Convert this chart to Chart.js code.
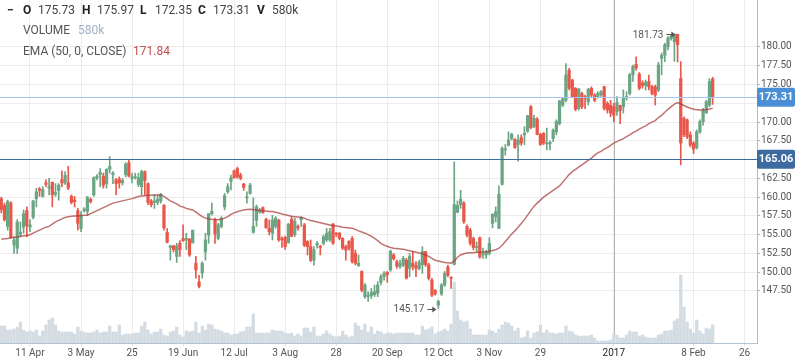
<!DOCTYPE html>
<html>
<head>
<meta charset="utf-8">
<script src="https://cdn.jsdelivr.net/npm/chart.js@4.4.0/dist/chart.umd.min.js"></script>
<style>
  html, body { margin: 0; padding: 0; background: #fff; }
  #wrap { position: relative; width: 798px; height: 363px; font-family: Roboto, sans-serif; }
  #wrap canvas { position: absolute; left: 0; top: 0; }
  .lg { position: absolute; font-size: 12px; line-height: 14px; color: #444; white-space: nowrap; }
  .b { font-weight: bold; color: #222; }
</style>
</head>
<body>
<div id="wrap">
  <canvas id="chart" width="798" height="363"></canvas>
  <span class="lg b" style="left:7px;top:3px">&minus;</span>
  <span class="lg b" style="left:23px;top:3px">O</span><span class="lg" style="left:38px;top:3px">175.73</span>
  <span class="lg b" style="left:82px;top:3px">H</span><span class="lg" style="left:97px;top:3px">175.97</span>
  <span class="lg b" style="left:140px;top:3px">L</span><span class="lg" style="left:155px;top:3px">172.35</span>
  <span class="lg b" style="left:198px;top:3px">C</span><span class="lg" style="left:213px;top:3px">173.31</span>
  <span class="lg b" style="left:257px;top:3px">V</span><span class="lg" style="left:272px;top:3px">580k</span>
  <span class="lg" style="left:23px;top:23px;color:#555">VOLUME</span><span class="lg" style="left:78px;top:23px;color:#9fb3c6">580k</span>
  <span class="lg" style="left:23px;top:44px;color:#555">EMA (50, 0, CLOSE)</span><span class="lg" style="left:133px;top:44px;color:#c0504d">171.84</span>
</div>
<script>
// trading-day index of the first candle (0 = 11 Apr)
const firstIdx = -9;

const open = [
  159.8, 158.9, 156.1, 159.2, 153.6, 153.2, 155.1, 156.0, 158.2, 156.0,
  157.3, 159.8, 161.1, 160.1, 161.9, 161.2, 162.0, 160.4, 160.9, 162.3,
  161.9, 161.9, 160.1, 159.6, 158.2, 155.8, 158.2, 158.1, 159.7, 160.3,
  162.6, 163.0, 162.8, 161.8, 163.7, 163.0, 162.3, 162.4, 161.9, 163.0,
  164.6, 162.5, 162.6, 161.7, 161.4, 163.4, 161.8, 159.5, 159.3, 159.3,
  159.5, 158.9, 155.3, 153.3, 153.5, 152.1, 153.85, 154.5, 154.3, 154.4,
  153.9, 151.2, 148.7, 149.9, 152.7, 154.95, 157.8, 156.95, 154.5, 156.1,
  158.7, 160.7, 162.1, 163.5, 163.8, 162.95, 161.75, 159.9, 160.5, 155.3,
  156.9, 158.0, 158.6, 157.05, 155.85, 155.2, 156.1, 156.95, 154.5, 154.65,
  153.95, 157.05, 155.0, 156.1, 157.0, 156.3, 154.1, 153.4, 151.6, 153.6,
  153.4, 153.85, 154.3, 154.3, 156.4, 155.2, 155.2, 154.5, 153.4, 154.1,
  154.5, 152.5, 150.9, 150.1, 146.75, 146.75, 146.9, 147.0, 147.2, 148.65,
  149.4, 150.0, 150.3, 152.3, 151.4, 150.75, 150.95, 151.6, 150.5, 151.2,
  150.9, 150.5, 151.0, 152.75, 151.0, 148.95, 147.6, 145.6, 147.1, 148.3,
  150.7, 149.3, 151.05, 158.0, 159.0, 159.2, 156.1, 155.6, 154.5, 153.3,
  154.6, 152.3, 152.3, 152.5, 156.5, 157.4, 155.85, 161.7, 166.3, 166.9,
  167.8, 167.7, 167.0, 167.9, 168.3, 168.8, 172.05, 169.4, 170.4, 168.35,
  168.5, 167.1, 167.1, 167.8, 168.7, 169.8, 172.27, 172.9, 176.9, 175.6,
  174.5, 171.8, 173.8, 173.4, 172.7, 174.5, 173.6, 173.4, 173.6, 174.7,
  172.5, 172.27, 172.05, 171.4, 172.2, 172.05, 173.2, 173.8, 176.3, 177.7,
  176.4, 175.2, 174.85, 175.4, 174.7, 174.7, 174.27, 178.5, 178.9, 180.05,
  181.15, 180.7, 181.7, 175.8, 170.5, 170.3, 168.3, 167.2, 166.6, 168.7,
  170.05, 171.2, 172.27, 175.73
];
const high = [
  160.0, 159.2, 159.6, 159.4, 154.7, 157.0, 156.7, 158.3, 158.7, 157.0,
  159.6, 161.2, 161.3, 161.4, 162.3, 162.5, 162.0, 161.8, 161.8, 163.5,
  163.4, 164.1, 160.3, 160.1, 158.5, 158.1, 158.6, 160.1, 159.9, 162.7,
  163.0, 163.8, 163.2, 163.8, 165.4, 163.4, 162.5, 162.7, 162.5, 164.6,
  165.0, 163.2, 163.2, 163.2, 163.6, 163.5, 161.9, 159.7, 160.3, 160.3,
  160.5, 159.0, 155.8, 153.6, 153.6, 153.85, 154.2, 156.3, 155.2, 154.5,
  155.6, 152.1, 149.6, 151.4, 155.2, 157.8, 159.2, 157.2, 156.5, 157.4,
  160.5, 161.8, 162.95, 163.6, 164.0, 163.2, 161.85, 160.7, 161.85, 159.9,
  158.95, 158.5, 158.7, 157.2, 156.95, 157.6, 157.4, 157.05, 154.7, 154.8,
  156.5, 157.4, 157.2, 156.3, 157.4, 156.5, 154.2, 154.3, 153.4, 154.1,
  153.6, 154.95, 155.85, 155.85, 156.5, 155.3, 155.3, 154.6, 153.6, 154.2,
  154.75, 152.95, 152.3, 150.2, 148.5, 147.4, 147.85, 148.3, 148.75, 149.7,
  150.1, 150.1, 152.95, 152.5, 151.6, 151.6, 152.1, 151.85, 152.5, 152.75,
  151.4, 151.6, 153.4, 152.8, 151.2, 149.2, 147.7, 146.3, 148.5, 150.1,
  150.95, 149.4, 164.7, 159.5, 160.9, 159.4, 156.3, 155.85, 154.7, 154.05,
  154.7, 153.2, 152.95, 154.6, 157.8, 158.7, 161.5, 166.7, 167.0, 168.7,
  168.5, 167.8, 168.3, 168.3, 169.4, 170.9, 172.2, 170.9, 170.6, 168.5,
  168.6, 169.2, 167.5, 169.1, 170.3, 172.9, 173.25, 177.8, 177.15, 175.7,
  174.6, 174.5, 174.0, 173.6, 174.5, 174.7, 173.8, 174.05, 174.2, 174.8,
  172.7, 172.9, 172.5, 173.4, 172.27, 174.3, 174.05, 176.5, 177.6, 178.7,
  176.6, 175.5, 175.6, 176.27, 174.9, 174.9, 177.95, 179.2, 180.5, 181.4,
  181.6, 181.73, 181.7, 178.05, 170.7, 170.4, 168.7, 167.4, 168.95, 170.3,
  171.83, 172.9, 175.8, 175.97
];
const low = [
  157.9, 156.8, 155.6, 154.5, 152.5, 152.5, 154.7, 155.2, 154.7, 155.4,
  157.1, 158.7, 160.1, 160.0, 161.4, 160.3, 158.7, 160.1, 159.6, 161.4,
  161.7, 161.0, 159.1, 158.7, 155.6, 155.4, 158.0, 157.6, 159.2, 160.1,
  162.3, 161.4, 161.2, 161.2, 163.2, 161.8, 160.3, 161.2, 161.6, 162.7,
  162.7, 161.9, 162.4, 161.4, 160.3, 160.3, 159.0, 158.7, 158.5, 159.0,
  159.2, 155.6, 153.9, 151.6, 152.7, 151.3, 152.1, 154.1, 153.0, 152.1,
  153.9, 149.2, 147.9, 149.2, 151.6, 153.85, 157.6, 153.85, 154.3, 155.9,
  158.3, 160.5, 160.95, 162.5, 162.5, 162.3, 160.9, 159.2, 160.4, 155.2,
  156.1, 157.85, 157.85, 155.85, 154.95, 154.3, 155.85, 154.1, 153.3, 153.05,
  153.85, 154.7, 154.75, 155.6, 156.1, 153.4, 152.3, 151.4, 150.95, 153.2,
  152.3, 153.6, 154.1, 154.1, 153.7, 154.75, 154.3, 153.0, 151.6, 152.95,
  151.2, 150.95, 150.75, 147.4, 146.5, 146.1, 146.5, 146.75, 146.75, 148.3,
  148.95, 148.65, 150.1, 151.6, 150.5, 150.5, 150.75, 149.1, 149.4, 150.3,
  149.4, 150.3, 149.85, 150.75, 148.95, 146.75, 146.95, 145.17, 146.9, 148.1,
  149.4, 147.85, 150.95, 157.9, 158.5, 156.5, 154.7, 153.6, 152.95, 152.7,
  151.85, 151.85, 151.85, 152.3, 155.9, 156.7, 155.8, 161.6, 165.6, 166.8,
  167.6, 166.5, 164.8, 166.9, 167.0, 168.6, 169.1, 169.25, 168.3, 166.9,
  167.0, 166.3, 166.3, 167.4, 168.3, 169.6, 172.05, 172.7, 174.27, 173.25,
  171.5, 171.6, 171.8, 171.8, 172.27, 173.4, 172.7, 173.2, 173.4, 171.6,
  171.2, 170.7, 170.05, 170.9, 169.8, 171.2, 172.9, 173.6, 175.4, 176.9,
  174.3, 174.5, 174.27, 174.27, 173.6, 172.27, 174.05, 176.3, 178.05, 179.6,
  180.9, 178.1, 178.0, 164.3, 168.05, 167.8, 166.7, 165.8, 166.4, 168.5,
  169.6, 171.2, 172.05, 172.35
];
const close = [
  158.3, 157.0, 159.4, 154.7, 154.3, 156.7, 155.3, 157.8, 156.2, 156.3,
  159.5, 160.7, 160.9, 161.0, 161.7, 161.4, 160.3, 160.6, 161.6, 161.9,
  162.9, 161.2, 159.3, 159.4, 156.5, 157.6, 158.4, 160.0, 159.4, 162.6,
  162.8, 163.3, 161.6, 163.7, 164.1, 163.2, 161.8, 161.9, 162.2, 164.4,
  162.8, 162.7, 162.7, 162.6, 163.4, 162.2, 159.3, 159.0, 159.5, 159.7,
  160.4, 155.9, 154.0, 153.5, 153.0, 153.5, 153.0, 154.2, 154.5, 152.3,
  155.6, 150.3, 148.1, 151.2, 154.3, 157.8, 158.1, 155.1, 156.3, 157.2,
  160.2, 161.4, 162.6, 162.6, 162.7, 162.5, 161.3, 160.0, 161.6, 156.1,
  158.7, 158.2, 157.9, 155.9, 155.4, 156.95, 157.2, 154.3, 154.3, 153.4,
  156.4, 154.8, 156.8, 155.9, 157.2, 153.6, 153.4, 151.6, 153.0, 153.85,
  153.3, 154.7, 155.2, 155.4, 153.85, 155.05, 154.5, 153.2, 152.95, 153.2,
  151.4, 151.2, 151.2, 147.6, 148.3, 146.95, 147.3, 147.4, 148.3, 149.4,
  149.85, 149.65, 152.8, 151.8, 150.8, 151.2, 151.85, 149.2, 152.1, 150.75,
  150.5, 151.3, 152.75, 151.0, 149.2, 146.95, 147.1, 146.1, 148.3, 149.85,
  149.6, 149.2, 159.0, 158.9, 159.7, 156.7, 154.95, 153.85, 153.3, 153.4,
  152.05, 152.4, 152.7, 153.85, 157.7, 158.05, 160.4, 166.5, 166.4, 167.6,
  168.4, 166.6, 167.6, 167.2, 168.5, 170.85, 169.25, 170.5, 168.35, 167.0,
  167.2, 167.2, 167.3, 168.9, 170.05, 172.8, 173.1, 176.27, 174.5, 173.4,
  171.7, 174.4, 172.05, 173.15, 174.35, 173.6, 172.9, 173.8, 174.05, 171.83,
  171.6, 171.2, 170.9, 172.6, 171.5, 173.25, 173.4, 176.3, 177.4, 177.2,
  174.5, 174.9, 175.3, 174.7, 173.8, 173.6, 177.6, 178.9, 180.3, 181.2,
  181.5, 181.7, 180.3, 167.2, 168.3, 168.05, 166.95, 166.4, 168.7, 170.05,
  171.6, 172.7, 175.4, 173.31
];
// volume in thousands
const volume = [
  544, 544, 416, 416, 448, 512, 672, 416, 352, 384,
  352, 416, 224, 384, 576, 736, 800, 576, 384, 352,
  352, 352, 352, 288, 512, 384, 352, 320, 320, 352,
  416, 320, 352, 352, 544, 352, 352, 576, 256, 288,
  288, 288, 320, 320, 544, 672, 416, 288, 352, 352,
  448, 256, 224, 352, 384, 512, 256, 192, 384, 352,
  384, 672, 320, 544, 416, 608, 576, 448, 416, 384,
  320, 320, 256, 288, 288, 352, 384, 512, 512, 928,
  320, 320, 320, 320, 320, 416, 384, 384, 384, 320,
  288, 320, 224, 288, 224, 480, 480, 352, 512, 224,
  224, 288, 384, 288, 224, 192, 224, 384, 256, 192,
  224, 640, 544, 416, 608, 352, 512, 288, 384, 352,
  288, 320, 320, 288, 320, 320, 320, 320, 320, 320,
  256, 256, 544, 416, 448, 512, 288, 352, 384, 448,
  384, 608, 1952, 1024, 736, 672, 704, 448, 256, 256,
  256, 256, 256, 416, 384, 320, 448, 576, 672, 640,
  544, 384, 480, 160, 192, 384, 160, 320, 352, 576,
  320, 416, 320, 320, 288, 320, 320, 544, 384, 352,
  256, 224, 224, 224, 224, 256, 160, 64, 64, 64,
  64, 96, 256, 256, 160, 160, 256, 384, 352, 352,
  224, 256, 192, 160, 160, 160, 256, 288, 384, 384,
  416, 704, 768, 2176, 1152, 672, 448, 320, 736, 384,
  288, 480, 448, 580
];
const ema50 = [
  154.4, 154.45, 154.5, 154.6, 154.65, 154.7, 154.8, 154.85, 154.9, 155.0,
  155.2, 155.4, 155.6, 155.8, 156.0, 156.1, 156.4, 156.7, 156.9, 157.1,
  157.3, 157.4, 157.45, 157.5, 157.5, 157.55, 157.6, 157.6, 157.8, 158.0,
  158.2, 158.4, 158.6, 158.8, 159.0, 159.2, 159.3, 159.4, 159.5, 159.6,
  159.7, 159.8, 159.95, 160.1, 160.15, 160.2, 160.25, 160.25, 160.3, 160.3,
  160.3, 160.1, 159.8, 159.5, 159.3, 159.1, 158.8, 158.7, 158.5, 158.4,
  158.3, 158.0, 157.7, 157.4, 157.2, 157.1, 157.05, 157.0, 157.0, 157.05,
  157.2, 157.4, 157.7, 157.9, 158.05, 158.2, 158.3, 158.35, 158.4, 158.35,
  158.3, 158.25, 158.2, 158.15, 158.1, 158.1, 158.0, 157.9, 157.75, 157.65,
  157.55, 157.45, 157.4, 157.35, 157.3, 157.2, 157.0, 156.9, 156.8, 156.7,
  156.6, 156.5, 156.4, 156.3, 156.2, 156.15, 156.1, 156.0, 155.95, 155.9,
  155.85, 155.7, 155.5, 155.35, 155.2, 155.0, 154.8, 154.5, 154.2, 153.85,
  153.6, 153.45, 153.3, 153.2, 153.15, 153.1, 153.05, 152.95, 152.85, 152.75,
  152.65, 152.55, 152.45, 152.3, 152.1, 151.85, 151.6, 151.5, 151.4, 151.3,
  151.25, 151.2, 151.5, 152.0, 152.3, 152.45, 152.55, 152.6, 152.6, 152.65,
  152.65, 152.7, 152.7, 152.8, 152.9, 153.0, 153.2, 153.6, 154.1, 154.6,
  155.1, 155.5, 156.0, 156.5, 157.0, 157.6, 158.2, 158.8, 159.2, 159.6,
  160.0, 160.3, 160.6, 160.9, 161.2, 161.5, 162.0, 162.5, 163.0, 163.4,
  163.7, 164.0, 164.3, 164.6, 164.9, 165.2, 165.6, 165.9, 166.1, 166.4,
  166.6, 166.9, 167.2, 167.4, 167.6, 167.8, 168.05, 168.3, 168.6, 168.8,
  169.05, 169.3, 169.5, 169.8, 170.0, 170.2, 170.6, 170.9, 171.3, 171.7,
  172.05, 172.4, 172.6, 172.4, 172.2, 172.0, 171.85, 171.7, 171.65, 171.6,
  171.6, 171.65, 171.75, 171.84
];

const tickPos = [0, 16, 32, 48, 64, 80, 96, 112, 128, 144, 160, 183, 208, 224];
const tickLabels = ['11 Apr', '3 May', '25', '19 Jun', '12 Jul', '3 Aug', '28', '20 Sep',
                    '12 Oct', '3 Nov', '29', '2017', '8 Feb', '26'];
const priceTicks = [147.5, 150, 152.5, 155, 157.5, 160, 162.5, 165, 167.5, 170, 172.5, 175, 177.5, 180];

const lastClose = 173.31;
const crossPrice = 165.06;
const crossIdx = 183;

const green = '#6ba583', red = '#e8574a';
const idx = open.map((_, i) => firstIdx + i);
const colors = open.map((o, i) => close[i] >= o ? green : red);

function marker(ctx, label, tipX, y) {
  // text followed by a small right arrow pointing at the candle
  ctx.fillText(label, tipX - 12, y);
  ctx.beginPath();
  ctx.moveTo(tipX - 9, y - 0.5);
  ctx.lineTo(tipX - 1, y - 0.5);
  ctx.stroke();
  ctx.beginPath();
  ctx.moveTo(tipX, y - 0.5);
  ctx.lineTo(tipX - 4, y - 3.5);
  ctx.lineTo(tipX - 4, y + 2.5);
  ctx.closePath();
  ctx.fill();
}

const overlay = {
  id: 'overlay',
  beforeDatasetsDraw(chart) {
    const { ctx, chartArea: a, scales: { x } } = chart;
    const px = Math.round(x.getPixelForValue(crossIdx)) + 0.5;
    ctx.save();
    ctx.strokeStyle = '#b4b4b4';
    ctx.lineWidth = 1;
    ctx.beginPath();
    ctx.moveTo(px, a.top);
    ctx.lineTo(px, a.bottom);
    ctx.stroke();
    ctx.restore();
  },
  afterDatasetsDraw(chart) {
    const { ctx, chartArea: a, scales: { y } } = chart;
    ctx.save();
    [[lastClose, '#a4c6ec'], [crossPrice, '#3d6b9f']].forEach(([p, c]) => {
      const py = Math.round(y.getPixelForValue(p)) + 0.5;
      ctx.strokeStyle = c;
      ctx.lineWidth = 1;
      ctx.beginPath();
      ctx.moveTo(a.left, py);
      ctx.lineTo(a.right, py);
      ctx.stroke();
    });
    ctx.restore();
  },
  afterDraw(chart) {
    const { ctx, chartArea: a, scales: { x, y } } = chart;
    ctx.save();
    // price boxes on the axis
    [[lastClose, '#4a8fd6'], [crossPrice, '#3d6b9f']].forEach(([p, c]) => {
      const py = y.getPixelForValue(p);
      ctx.fillStyle = c;
      ctx.beginPath();
      ctx.roundRect(a.right, py - 9.5, 38, 19, 2);
      ctx.fill();
      ctx.fillStyle = '#fff';
      ctx.font = 'bold 11px Roboto';
      ctx.textAlign = 'center';
      ctx.textBaseline = 'middle';
      ctx.fillText(p.toFixed(2), a.right + 19, py + 0.5);
    });
    // high / low markers
    const hiVal = Math.max(...high), loVal = Math.min(...low);
    const hiAt = firstIdx + high.indexOf(hiVal), loAt = firstIdx + low.indexOf(loVal);
    ctx.fillStyle = '#555';
    ctx.strokeStyle = '#555';
    ctx.lineWidth = 1;
    ctx.font = '10px Roboto';
    ctx.textAlign = 'right';
    ctx.textBaseline = 'middle';
    marker(ctx, hiVal.toFixed(2), x.getPixelForValue(hiAt) + 1, y.getPixelForValue(hiVal) + 1);
    marker(ctx, loVal.toFixed(2), x.getPixelForValue(loAt) - 2, y.getPixelForValue(loVal) + 1.5);
    ctx.restore();
  }
};

new Chart(document.getElementById('chart'), {
  type: 'bar',
  data: {
    datasets: [
      {
        type: 'line', label: 'EMA', yAxisID: 'y', order: 0,
        data: idx.map((v, i) => ({ x: v, y: ema50[i] })),
        borderColor: 'rgba(168, 58, 58, 0.72)', borderWidth: 1.5, pointRadius: 0, tension: 0
      },
      {
        label: 'body', yAxisID: 'y', order: 1, grouped: false,
        data: idx.map((v, i) => ({ x: v, y: [open[i], close[i]] })),
        backgroundColor: colors, barThickness: 2.6, minBarLength: 1
      },
      {
        label: 'wick', yAxisID: 'y', order: 2, grouped: false,
        data: idx.map((v, i) => ({ x: v, y: [low[i], high[i]] })),
        backgroundColor: colors, barThickness: 1
      },
      {
        label: 'volume', yAxisID: 'v', order: 3, grouped: false,
        data: idx.map((v, i) => ({ x: v, y: volume[i] })),
        backgroundColor: '#d3dbe3', barThickness: 2.6
      }
    ]
  },
  options: {
    responsive: false,
    animation: false,
    devicePixelRatio: 1,
    layout: { padding: 0 },
    plugins: { legend: { display: false }, tooltip: { enabled: false } },
    scales: {
      x: {
        type: 'linear', min: -9.4, max: 227.9, offset: false,
        afterBuildTicks: s => { s.ticks = tickPos.map(v => ({ value: v })); },
        afterFit: s => { s.height = 20; s.paddingLeft = 0; s.paddingRight = 0; },
        grid: { color: '#ececec', offset: false, tickLength: 3, tickColor: '#e2e2e2' },
        border: { color: '#b3c4d5' },
        ticks: {
          autoSkip: false, maxRotation: 0, padding: 1,
          font: { family: 'Roboto', size: 10 },
          color: c => (c.tick && c.tick.value === crossIdx) ? '#222' : '#555',
          callback: v => tickLabels[tickPos.indexOf(v)]
        }
      },
      y: {
        type: 'linear', position: 'right', min: 140.57, max: 186.26,
        afterBuildTicks: s => { s.ticks = priceTicks.map(v => ({ value: v })); },
        afterFit: s => { s.width = 41; s.paddingTop = 0; s.paddingBottom = 0; },
        grid: { color: '#ececec', tickLength: 3, tickColor: '#9fb4c8' },
        border: { color: '#a9bcd0' },
        ticks: {
          padding: 1, font: { family: 'Roboto', size: 10 }, color: '#555',
          callback: v => v.toFixed(2)
        }
      },
      v: { type: 'linear', display: false, min: 0, max: 10976 }
    }
  },
  plugins: [overlay]
});
</script>
</body>
</html>
